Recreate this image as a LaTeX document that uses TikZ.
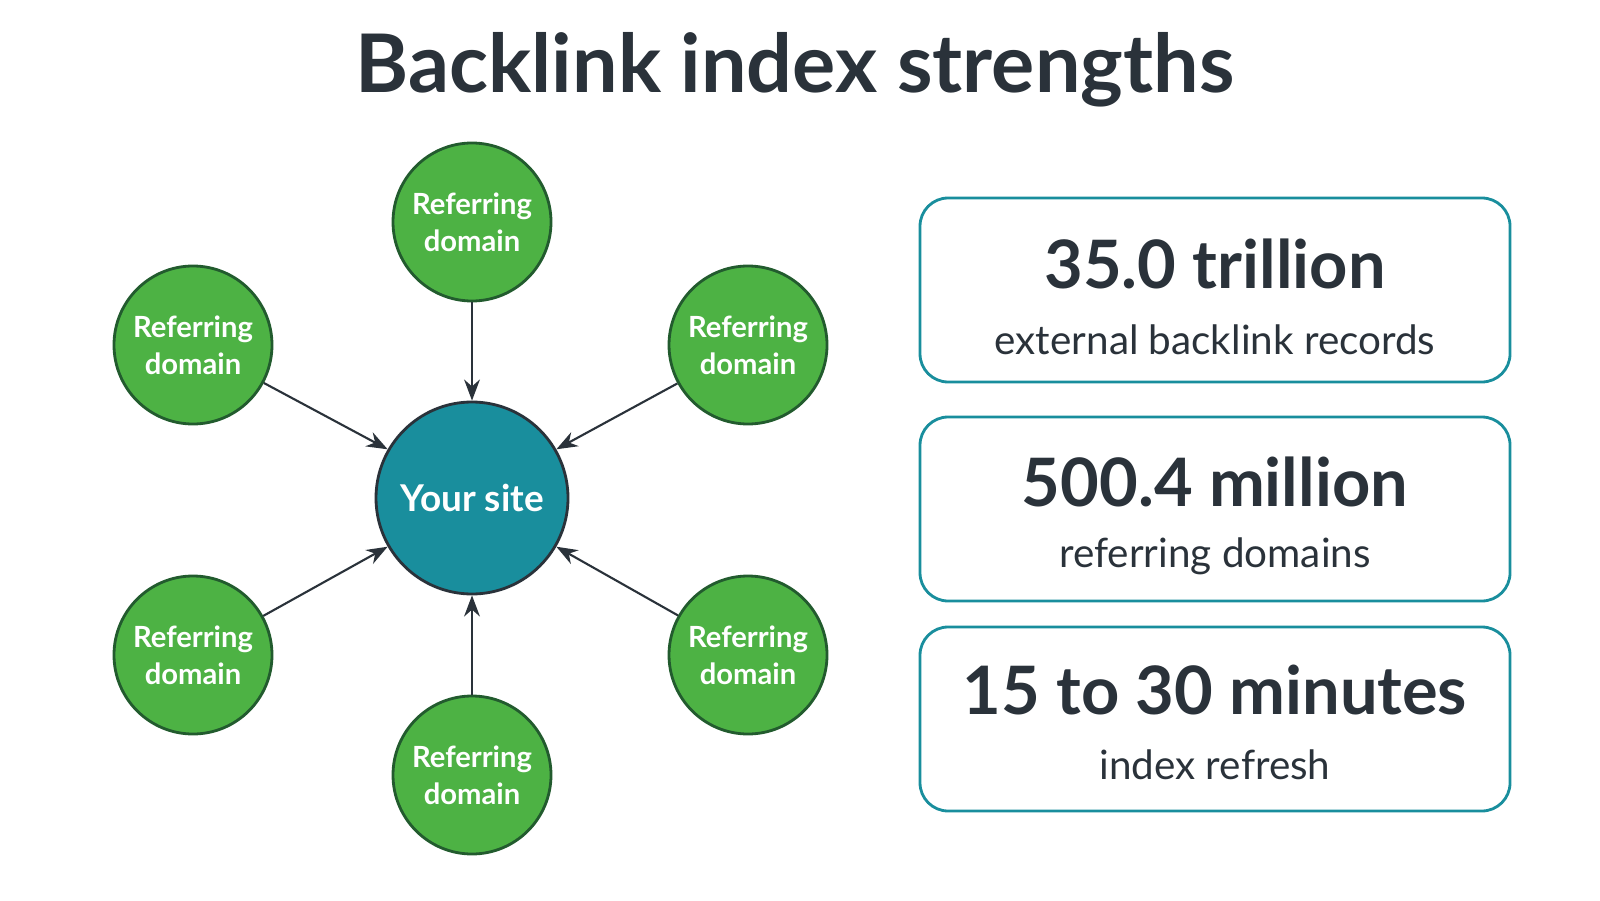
\documentclass[tikz,border=0pt]{standalone}
\usepackage{fontspec}
\setmainfont{Lato}
\usetikzlibrary{arrows.meta}
\definecolor{leafgreen}{HTML}{4DB244}
\definecolor{sitecyan}{HTML}{198E9D}
\definecolor{inkdark}{HTML}{2A323A}
\tikzset{
  refdomain/.style={draw=inkdark!80!green, thick, circle, fill=leafgreen, minimum size=1.58cm, inner sep=0pt,
    text=white, align=center, font=\bfseries\fontsize{8.3}{10.5}\selectfont},
  statbox/.style={draw=sitecyan, thick, rounded corners=8pt, minimum width=5.9cm, minimum height=1.84cm},
  link/.style={draw=inkdark, semithick, -{Stealth[length=6pt]}}
}
\begin{document}
\begin{tikzpicture}
\path[use as bounding box, fill=white] (0,0) rectangle (16,9);

\node[font=\bfseries\fontsize{23}{28}\selectfont, text=inkdark] (title) at (7.95,8.3) {Backlink index strengths};

\node[draw=inkdark, thick, circle, fill=sitecyan, minimum size=1.92cm, inner sep=0pt, text=white,
  font=\bfseries\fontsize{10.5}{12}\selectfont] (site) at (4.72,4.02) {Your site};

\node[refdomain] (d1) at (4.72,6.78) {Referring\\domain};
\node[refdomain] (d2) at (1.93,5.55) {Referring\\domain};
\node[refdomain] (d3) at (7.48,5.55) {Referring\\domain};
\node[refdomain] (d4) at (1.93,2.45) {Referring\\domain};
\node[refdomain] (d5) at (7.48,2.45) {Referring\\domain};
\node[refdomain] (d6) at (4.72,1.25) {Referring\\domain};

\path[link] (d1) -- (site);
\path[link] (d2) -- (site.150);
\path[link] (d3) -- (site.30);
\path[link] (d4) -- (site.210);
\path[link] (d5) -- (site.330);
\path[link] (d6) -- (site);

\node[statbox] (b1) at (12.15,6.1) {};
\node[statbox] (b2) at (12.15,3.91) {};
\node[statbox] (b3) at (12.15,1.81) {};

\node[font=\bfseries\fontsize{19}{22}\selectfont, text=inkdark] (n1) at (12.15,6.36) {35.0 trillion};
\node[font=\fontsize{11.5}{14}\selectfont, text=inkdark] (t1) at (12.15,5.6) {external backlink records};
\node[font=\bfseries\fontsize{19}{22}\selectfont, text=inkdark] (n2) at (12.15,4.18) {500.4 million};
\node[font=\fontsize{11.5}{14}\selectfont, text=inkdark] (t2) at (12.15,3.44) {referring domains};
\node[font=\bfseries\fontsize{19}{22}\selectfont, text=inkdark] (n3) at (12.15,2.1) {15 to 30 minutes};
\node[font=\fontsize{11.5}{14}\selectfont, text=inkdark] (t3) at (12.15,1.35) {index refresh};
\end{tikzpicture}
\end{document}
